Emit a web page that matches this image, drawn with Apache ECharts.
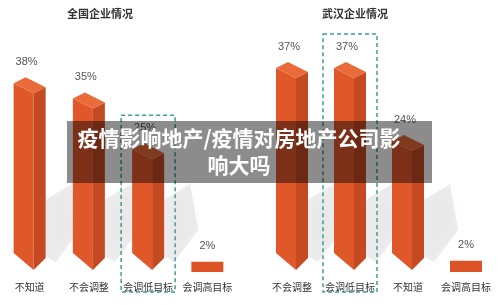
<!DOCTYPE html>
<html>
<head>
<meta charset="utf-8">
<script src="https://cdn.jsdelivr.net/npm/echarts@6/dist/echarts.min.js"></script>
<style>
  html, body { margin: 0; padding: 0; background: #fff; }
  #main { width: 500px; height: 305px; }
</style>
</head>
<body>
<div id="main"></div>
<script>
// 全国企业情况
var leftCats = ['不知道', '不会调整', '会调低目标', '会调高目标'];
var leftVals = [38, 35, 25, 2];
// 武汉企业情况
var rightCats = ['不会调整', '会调低目标', '不知道', '会调高目标'];
var rightVals = [37, 37, 24, 2];
var highlight = ['会调低目标'];

var myChart = echarts.init(document.getElementById('main'));

function makeRender(cats) {
    return function (params, api) {
        var idx = api.value(0);
        var val = api.value(1);
        var p0 = api.coord([idx, 0]);
        var p1 = api.coord([idx, val]);
        var x = p0[0], base = p0[1], top = p1[1];
        var w = 32, L = x - 16, M = L + 20, R = L + w;
        var children = [];

        if (highlight.indexOf(cats[idx]) >= 0) {
            children.push({
                type: 'rect',
                shape: { x: x - 27, y: top - 28, width: 54, height: base + 22 - (top - 28) },
                style: { fill: 'none', stroke: '#3a9e9a', lineWidth: 1.5, lineDash: [4, 3] }
            });
        }

        if (base - top < 30) {
            children.push({
                type: 'rect',
                shape: { x: L, y: top + 2, width: w, height: base - top },
                style: { fill: '#dc5326' }
            });
            children.push({
                type: 'text',
                style: { text: val + '%', x: x, y: top - 14, align: 'center', verticalAlign: 'middle',
                    fill: '#555', font: '11px "Liberation Sans"' }
            });
            return { type: 'group', children: children };
        }

        // soft shadow
        children.push({
            type: 'polygon',
            shape: { points: [[R, base - 14], [R, base - 70], [R + 26, base - 86], [R + 34, base - 40], [R + 10, base - 8]] },
            style: { fill: 'rgba(150,150,150,0.16)', shadowBlur: 8, shadowColor: 'rgba(150,150,150,0.3)' }
        });
        // front face
        children.push({
            type: 'polygon',
            shape: { points: [[L, top + 6], [M, top + 16], [M, base], [L, base - 17]] },
            style: { fill: '#e0582a' }
        });
        // side face
        children.push({
            type: 'polygon',
            shape: { points: [[M, top + 16], [R, top + 10], [R, base - 12], [M, base]] },
            style: { fill: '#c54a21' }
        });
        // top face
        children.push({
            type: 'polygon',
            shape: { points: [[L, top + 6], [L + 12, top], [R, top + 10], [M, top + 16]] },
            style: { fill: '#ea6a3a' }
        });
        children.push({
            type: 'text',
            style: { text: val + '%', x: x - 3, y: top - 15, align: 'center', verticalAlign: 'middle',
                fill: '#555', font: '11px "Liberation Sans"' }
        });
        return { type: 'group', children: children };
    };
}

var axisLabel = { color: '#333', fontSize: 10, margin: 12, interval: 0, fontFamily: 'Noto Sans CJK SC' };

myChart.setOption(option = {
    animation: false,
    grid: [
        { left: 0, width: 237, top: 67, bottom: 35 },
        { left: 263, width: 232, top: 45, bottom: 35 }
    ],
    xAxis: [
        { type: 'category', gridIndex: 0, data: leftCats, axisLine: { show: false }, axisTick: { show: false }, axisLabel: axisLabel },
        { type: 'category', gridIndex: 1, data: rightCats, axisLine: { show: false }, axisTick: { show: false }, axisLabel: axisLabel }
    ],
    yAxis: [
        { type: 'value', gridIndex: 0, min: 0, max: 40, show: false },
        { type: 'value', gridIndex: 1, min: 0, max: 40, show: false }
    ],
    series: [
        {
            type: 'custom', xAxisIndex: 0, yAxisIndex: 0,
            renderItem: makeRender(leftCats),
            data: leftVals.map(function (v, i) { return [i, v]; })
        },
        {
            type: 'custom', xAxisIndex: 1, yAxisIndex: 1,
            renderItem: makeRender(rightCats),
            data: rightVals.map(function (v, i) { return [i, v]; })
        }
    ],
    graphic: [
        {
            type: 'text', left: 67, top: 8,
            style: { text: '全国企业情况', fill: '#333', font: 'bold 11px "Noto Sans CJK SC"' }
        },
        {
            type: 'text', left: 322, top: 8,
            style: { text: '武汉企业情况', fill: '#333', font: 'bold 11px "Noto Sans CJK SC"' }
        },
        {
            type: 'rect', z: 100,
            shape: { x: 67, y: 121, width: 365, height: 62 },
            style: { fill: 'rgba(0,0,0,0.45)' }
        },
        {
            type: 'text', z: 101,
            style: {
                text: '疫情影响地产/疫情对房地产公司影\n响大吗',
                x: 239, y: 152, align: 'center', verticalAlign: 'middle',
                fill: '#fff', font: 'bold 21px "Noto Sans CJK SC"', lineHeight: 27
            }
        }
    ]
});
</script>
</body>
</html>
